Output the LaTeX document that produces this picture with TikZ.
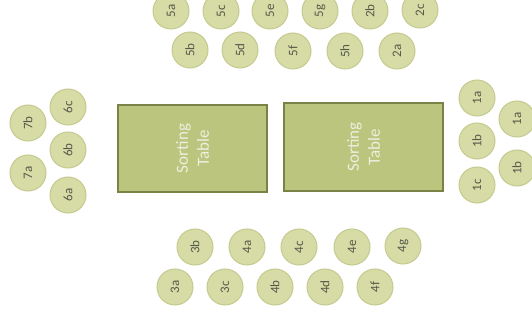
\documentclass[tikz,border=0pt]{standalone}
\usepackage{fontspec}
\setmainfont{Carlito}
\definecolor{seatfill}{RGB}{215,219,165}
\definecolor{seatdraw}{RGB}{196,202,142}
\definecolor{seattext}{RGB}{85,90,75}
\definecolor{tabfill}{RGB}{187,197,125}
\definecolor{tabdraw}{RGB}{122,130,70}
\definecolor{tabtext}{RGB}{236,240,222}
\begin{document}
\begin{tikzpicture}[x=1pt,y=-1pt,
  seat/.style={circle,draw=seatdraw,line width=1pt,fill=seatfill,minimum size=36pt,inner sep=0pt,
    text=seattext,font=\fontsize{13}{13}\selectfont,rotate=90},
  sorttable/.style={draw=tabdraw,line width=1.2pt,fill=tabfill,text=tabtext,
    font=\fontsize{17}{21}\selectfont,align=center,rectangle,inner sep=0pt},
  tablabel/.style={text=tabtext,font=\fontsize{17}{21}\selectfont,align=center,rotate=90}]
\useasboundingbox (0,0) rectangle (532,323);
% top rows
\node[seat] (s5a) at (171,11) {5a};
\node[seat] (s5c) at (221,11) {5c};
\node[seat] (s5e) at (270,11) {5e};
\node[seat] (s5g) at (320,11) {5g};
\node[seat] (s2b) at (370,11) {2b};
\node[seat] (s2c) at (420,10) {2c};
\node[seat] (s5b) at (190,50) {5b};
\node[seat] (s5d) at (240,50) {5d};
\node[seat] (s5f) at (293,51) {5f};
\node[seat] (s5h) at (345,51) {5h};
\node[seat] (s2a) at (397,51) {2a};
% left
\node[seat] (s7b) at (28,123) {7b};
\node[seat] (s6c) at (68,107) {6c};
\node[seat] (s6b) at (68,150) {6b};
\node[seat] (s7a) at (28,173) {7a};
\node[seat] (s6a) at (68,195) {6a};
% right
\node[seat] (s1a) at (477,98) {1a};
\node[seat] (s1ar) at (517,119) {1a};
\node[seat] (s1b) at (477,141) {1b};
\node[seat] (s1br) at (517,168) {1b};
\node[seat] (s1c) at (477,185) {1c};
% bottom
\node[seat] (s3b) at (195,247) {3b};
\node[seat] (s4a) at (247,247) {4a};
\node[seat] (s4c) at (299,247) {4c};
\node[seat] (s4e) at (352,247) {4e};
\node[seat] (s4g) at (403,246) {4g};
\node[seat] (s3a) at (175,287) {3a};
\node[seat] (s3c) at (225,287) {3c};
\node[seat] (s4b) at (275,287) {4b};
\node[seat] (s4d) at (325,287) {4d};
\node[seat] (s4f) at (375,287) {4f};
% tables
\node[sorttable,minimum width=149pt,minimum height=87pt] (tab1) at (192.5,148.5) {};
\node[tablabel] (t1) at (tab1.center) {Sorting\\Table};
\node[sorttable,minimum width=159pt,minimum height=88pt] (tab2) at (363.5,147) {};
\node[tablabel] (t2) at (tab2.center) {Sorting\\Table};
\end{tikzpicture}
\end{document}
